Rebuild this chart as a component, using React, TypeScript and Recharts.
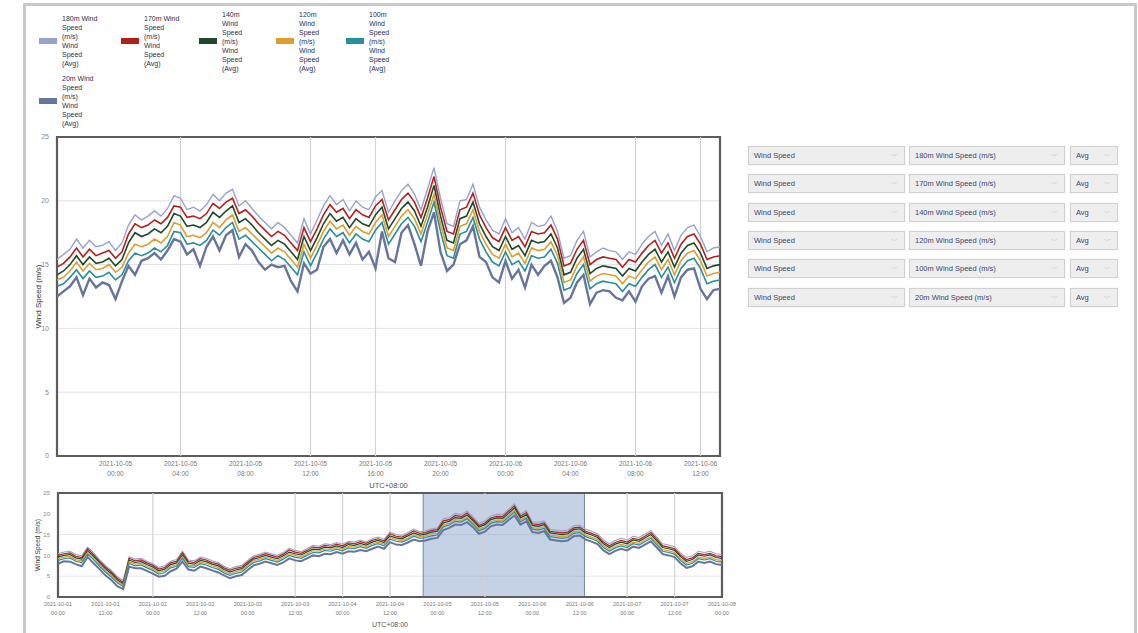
import React from 'react';
import { LineChart, Line, XAxis, YAxis, CartesianGrid, ReferenceLine, ReferenceArea } from 'recharts';

// ---------- series meta ----------
const seriesKeys = ['s180', 's170', 's140', 's120', 's100', 's20'];
const seriesNames = [
  '180m Wind Speed (m/s)',
  '170m Wind Speed (m/s)',
  '140m Wind Speed (m/s)',
  '120m Wind Speed (m/s)',
  '100m Wind Speed (m/s)',
  '20m Wind Speed (m/s)',
];
const seriesColors = ['#97a3cf', '#b3201c', '#1d4a2b', '#e19c2f', '#25909b', '#67759c'];
const legendLines = [
  ['180m Wind', 'Speed', '(m/s)', 'Wind', 'Speed', '(Avg)'],
  ['170m Wind', 'Speed', '(m/s)', 'Wind', 'Speed', '(Avg)'],
  ['140m', 'Wind', 'Speed', '(m/s)', 'Wind', 'Speed', '(Avg)'],
  ['120m', 'Wind', 'Speed', '(m/s)', 'Wind', 'Speed', '(Avg)'],
  ['100m', 'Wind', 'Speed', '(m/s)', 'Wind', 'Speed', '(Avg)'],
  ['20m Wind', 'Speed', '(m/s)', 'Wind', 'Speed', '(Avg)'],
];
const selectorMetric = 'Wind Speed';
const selectorAgg = 'Avg';

// ---------- main (zoomed) window, hours since 2021-10-01 00:00 ----------
const mainStartHour = 92.4;
const mainEndHour = 133.2;
const mainStepHours = 0.4;

const main180 = [15.4,15.8,16.2,17.0,16.3,16.9,16.4,16.5,16.8,16.1,16.7,18.1,18.9,18.5,18.8,19.2,18.8,19.4,20.4,20.2,19.3,19.5,19.2,19.7,20.5,20.0,20.6,20.9,19.6,20.0,19.4,18.8,18.3,17.8,18.3,17.9,17.3,16.7,18.6,17.4,18.5,19.6,20.4,19.7,20.1,19.2,20.0,19.5,19.3,20.3,20.8,19.1,20.0,20.8,21.3,20.5,19.3,20.9,22.6,20.2,18.2,18.0,20.0,20.1,21.3,19.5,18.5,17.7,17.4,18.6,17.5,17.9,17.0,18.3,18.0,18.1,18.8,17.6,15.5,15.7,16.9,17.6,15.6,16.0,16.3,16.1,16.0,15.4,16.0,15.8,16.6,17.2,17.6,16.5,17.4,16.1,17.3,17.9,18.1,17.2,16.0,16.3,16.4];
const main170 = [14.8,15.1,15.6,16.3,15.6,16.2,15.7,15.9,16.1,15.5,16.0,17.4,18.2,17.9,18.1,18.5,18.2,18.7,19.6,19.5,18.7,18.8,18.6,19.0,19.8,19.4,19.9,20.2,19.0,19.3,18.8,18.2,17.7,17.2,17.6,17.3,16.7,16.1,17.9,16.8,17.8,18.9,19.7,19.1,19.4,18.6,19.3,18.9,18.7,19.6,20.1,18.5,19.3,20.1,20.6,19.9,18.7,20.2,21.9,19.5,17.6,17.4,19.3,19.5,20.6,18.9,17.9,17.1,16.8,17.9,16.9,17.2,16.4,17.6,17.4,17.5,18.1,17.0,14.9,15.1,16.2,16.9,15.0,15.4,15.6,15.5,15.4,14.8,15.4,15.2,15.9,16.5,16.9,15.9,16.7,15.5,16.6,17.2,17.4,16.6,15.4,15.6,15.7];
const main140 = [14.2,14.5,15.0,15.7,15.0,15.6,15.1,15.2,15.5,14.9,15.4,16.7,17.5,17.2,17.4,17.8,17.5,18.0,19.0,18.8,18.0,18.1,17.9,18.3,19.1,18.7,19.2,19.6,18.3,18.6,18.1,17.5,17.0,16.5,16.9,16.6,16.0,15.4,17.2,16.1,17.1,18.2,19.0,18.4,18.7,17.9,18.6,18.2,18.0,18.9,19.5,17.8,18.6,19.4,19.9,19.2,18.0,19.5,21.2,18.8,16.9,16.7,18.6,18.8,19.9,18.2,17.2,16.4,16.1,17.2,16.2,16.5,15.7,16.9,16.7,16.8,17.4,16.3,14.2,14.4,15.5,16.2,14.3,14.7,14.9,14.8,14.7,14.1,14.7,14.5,15.2,15.8,16.2,15.2,16.0,14.8,15.9,16.5,16.7,15.9,14.7,14.9,15.0];
const main120 = [13.8,14.0,14.5,15.2,14.5,15.1,14.6,14.7,15.0,14.4,14.8,15.9,16.6,16.4,16.6,17.0,16.7,17.2,18.3,18.1,17.2,17.3,17.1,17.5,18.3,17.9,18.5,18.9,17.6,17.9,17.4,16.9,16.4,15.9,16.3,16.0,15.4,14.8,16.6,15.5,16.5,17.6,18.4,17.8,18.1,17.3,18.0,17.6,17.4,18.3,18.9,17.2,18.0,18.8,19.3,18.6,17.4,18.9,20.5,18.2,16.3,16.1,18.0,18.2,19.3,17.6,16.6,15.8,15.5,16.6,15.6,15.9,15.1,16.3,16.1,16.2,16.8,15.7,13.6,13.8,14.9,15.6,13.7,14.1,14.3,14.2,14.1,13.5,14.1,13.9,14.6,15.2,15.6,14.6,15.4,14.2,15.3,15.9,16.1,15.3,14.1,14.3,14.4];
const main100 = [13.3,13.5,14.0,14.6,13.9,14.5,14.0,14.1,14.4,13.8,14.2,15.3,15.9,15.7,15.9,16.3,16.0,16.5,17.6,17.5,16.6,16.7,16.5,16.9,17.7,17.3,17.9,18.3,17.0,17.3,16.8,16.3,15.8,15.3,15.7,15.4,14.8,14.2,16.0,14.9,15.9,17.0,17.8,17.2,17.5,16.7,17.4,17.0,16.8,17.7,18.3,16.6,17.4,18.2,18.7,18.0,16.8,18.3,19.9,17.6,15.7,15.5,17.4,17.6,18.7,17.0,16.0,15.2,14.9,16.0,15.0,15.3,14.5,15.7,15.5,15.6,16.2,15.1,13.0,13.2,14.3,15.0,13.1,13.5,13.7,13.6,13.5,12.9,13.5,13.3,14.0,14.6,15.0,14.0,14.8,13.6,14.7,15.3,15.5,14.7,13.5,13.7,13.8];
const main20 = [12.5,12.9,13.3,14.0,12.6,13.9,13.2,13.6,13.4,12.3,13.7,14.9,14.2,15.3,15.5,15.9,15.4,16.1,17.0,16.8,15.8,16.2,14.9,16.4,17.2,16.1,17.3,17.7,15.6,16.6,16.1,15.2,14.6,15.0,14.8,14.9,13.7,12.9,15.1,14.3,14.6,16.4,17.0,15.9,16.9,15.8,16.7,15.4,16.0,14.7,17.6,15.5,15.2,17.5,18.1,16.6,14.9,17.6,19.1,16.0,14.5,15.0,16.6,16.9,18.0,15.6,15.2,14.0,13.6,15.3,13.9,14.6,13.2,15.0,14.2,14.9,15.3,14.0,12.0,12.4,13.6,14.2,11.9,12.8,13.0,12.9,12.4,12.2,12.9,12.1,13.3,13.9,14.1,12.8,14.1,12.5,14.0,14.6,14.7,13.1,12.3,13.0,13.1];

// ---------- overview (whole week) ----------
const fullStepHours = 1.5;
const full180 = [10.4,10.8,11.0,10.2,9.9,12.0,10.6,9.0,7.6,6.4,4.9,3.9,9.7,9.1,9.3,8.6,8.0,7.1,7.5,8.6,9.0,11.0,8.9,8.7,9.6,9.3,8.7,8.3,7.4,6.8,7.3,7.6,8.8,9.9,10.3,10.8,10.4,10.0,10.7,11.7,11.2,10.9,11.6,12.4,12.2,12.8,12.6,13.1,12.7,13.4,13.2,13.7,13.3,14.0,14.4,13.9,15.6,15.0,14.8,15.5,16.3,15.7,15.9,16.4,16.6,18.8,19.1,20.1,19.8,20.7,19.3,17.7,18.3,19.5,19.9,19.8,21.1,22.4,19.9,20.8,18.1,17.9,18.3,16.3,16.1,15.9,16.1,17.1,17.3,16.3,15.8,15.2,13.7,12.8,13.6,14.1,13.7,14.6,14.3,15.1,16.0,14.4,12.8,12.5,12.1,10.6,9.5,9.9,11.0,10.7,11.0,10.4,10.2];
const full170 = [10.0,10.4,10.6,9.8,9.5,11.6,10.2,8.6,7.2,6.0,4.5,3.5,9.3,8.7,8.9,8.2,7.6,6.7,7.1,8.2,8.6,10.6,8.5,8.3,9.2,8.9,8.3,7.9,7.0,6.4,6.9,7.2,8.4,9.5,9.9,10.4,10.0,9.6,10.3,11.3,10.8,10.5,11.2,12.0,11.8,12.4,12.2,12.7,12.3,13.0,12.8,13.3,12.9,13.6,14.0,13.5,15.2,14.6,14.4,15.1,15.9,15.3,15.5,16.0,16.2,18.3,18.6,19.6,19.3,20.2,18.8,17.2,17.8,19.0,19.4,19.3,20.6,21.9,19.4,20.3,17.6,17.4,17.8,15.8,15.6,15.4,15.6,16.6,16.8,15.8,15.3,14.7,13.2,12.3,13.1,13.6,13.2,14.1,13.8,14.6,15.5,13.9,12.3,12.0,11.6,10.1,9.0,9.4,10.5,10.2,10.5,9.9,9.7];
const full140 = [9.6,10.0,10.2,9.4,9.1,11.1,9.8,8.2,6.8,5.6,4.1,3.2,8.9,8.3,8.5,7.8,7.2,6.3,6.7,7.8,8.2,10.1,8.1,7.9,8.8,8.5,7.9,7.5,6.6,6.0,6.5,6.8,8.0,9.1,9.5,10.0,9.6,9.2,9.9,10.8,10.4,10.1,10.8,11.5,11.4,12.0,11.8,12.3,11.9,12.6,12.4,12.9,12.5,13.2,13.6,13.1,14.7,14.2,14.0,14.7,15.4,14.9,15.1,15.6,15.8,17.8,18.2,19.1,18.9,19.7,18.4,16.8,17.4,18.6,19.0,18.9,20.1,21.4,19.0,19.8,17.2,17.0,17.4,15.4,15.2,15.0,15.2,16.2,16.4,15.4,14.9,14.3,12.8,11.9,12.7,13.2,12.8,13.7,13.4,14.2,15.0,13.5,11.9,11.6,11.2,9.7,8.6,9.0,10.1,9.8,10.1,9.5,9.3];
const full120 = [9.2,9.6,9.8,9.0,8.7,10.7,9.4,7.8,6.4,5.2,3.8,2.9,8.5,7.9,8.1,7.4,6.8,5.9,6.3,7.4,7.8,9.7,7.7,7.5,8.4,8.1,7.5,7.1,6.2,5.6,6.1,6.4,7.6,8.7,9.1,9.6,9.2,8.8,9.5,10.4,10.0,9.7,10.4,11.1,11.0,11.6,11.4,11.9,11.5,12.2,12.0,12.5,12.1,12.8,13.2,12.7,14.3,13.8,13.6,14.2,15.0,14.5,14.7,15.2,15.3,17.3,17.7,18.6,18.4,19.2,17.9,16.3,16.9,18.1,18.5,18.4,19.6,20.8,18.5,19.3,16.7,16.5,16.9,14.9,14.7,14.5,14.7,15.7,15.9,14.9,14.4,13.8,12.3,11.4,12.2,12.7,12.3,13.2,12.9,13.7,14.5,13.0,11.4,11.1,10.7,9.2,8.1,8.5,9.6,9.3,9.6,9.0,8.8];
const full100 = [8.8,9.2,9.4,8.6,8.3,10.3,9.0,7.4,6.0,4.8,3.4,2.5,8.1,7.5,7.7,7.0,6.4,5.5,5.9,7.0,7.4,9.3,7.3,7.1,8.0,7.7,7.1,6.7,5.8,5.2,5.7,6.0,7.2,8.3,8.7,9.2,8.8,8.4,9.1,10.0,9.6,9.3,10.0,10.7,10.6,11.2,11.0,11.5,11.1,11.8,11.6,12.1,11.7,12.4,12.8,12.3,13.9,13.4,13.2,13.8,14.6,14.1,14.3,14.7,14.9,16.9,17.3,18.2,18.0,18.8,17.5,15.9,16.5,17.7,18.1,18.0,19.2,20.4,18.1,18.9,16.3,16.1,16.5,14.5,14.3,14.1,14.3,15.3,15.5,14.5,14.0,13.4,11.9,11.0,11.8,12.3,11.9,12.8,12.5,13.3,14.1,12.6,11.0,10.7,10.3,8.8,7.7,8.1,9.2,8.9,9.2,8.6,8.4];
const full20 = [8.0,8.6,8.5,7.9,7.4,9.6,8.1,6.7,5.2,4.1,2.6,1.9,7.3,6.9,6.9,6.3,5.6,4.9,5.1,6.2,6.8,8.5,6.6,6.3,7.3,6.9,6.4,5.9,5.2,4.5,5.0,5.3,6.5,7.6,8.0,8.5,8.1,7.7,8.3,9.3,8.8,8.6,9.3,10.0,9.8,10.4,10.3,10.8,10.4,11.0,10.9,11.3,11.0,11.6,12.1,11.6,13.2,12.6,12.5,13.1,13.8,13.4,13.6,14.0,14.2,16.1,16.6,17.4,17.3,18.0,16.8,15.2,15.7,17.0,17.4,17.3,18.5,19.6,17.4,18.2,15.6,15.4,15.8,13.8,13.6,13.4,13.6,14.6,14.8,13.8,13.3,12.7,11.2,10.3,11.1,11.6,11.2,12.1,11.8,12.6,13.4,11.9,10.3,10.0,9.6,8.1,7.0,7.4,8.5,8.2,8.5,7.9,7.7];

// ---------- ticks ----------
const yTicks = [0, 5, 10, 15, 20, 25];
const mainTickHours = [96, 100, 104, 108, 112, 116, 120, 124, 128, 132];
const mainTickDates = ['2021-10-05', '2021-10-05', '2021-10-05', '2021-10-05', '2021-10-05', '2021-10-05', '2021-10-06', '2021-10-06', '2021-10-06', '2021-10-06'];
const mainTickTimes = ['00:00', '04:00', '08:00', '12:00', '16:00', '20:00', '00:00', '04:00', '08:00', '12:00'];
const mainGridHours = [100, 108, 112, 120, 128, 132];
const fullTickHours = [0, 12, 24, 36, 48, 60, 72, 84, 96, 108, 120, 132, 144, 156, 168];
const fullTickDates = ['2021-10-01', '2021-10-01', '2021-10-02', '2021-10-02', '2021-10-03', '2021-10-03', '2021-10-04', '2021-10-04', '2021-10-05', '2021-10-05', '2021-10-06', '2021-10-06', '2021-10-07', '2021-10-07', '2021-10-08'];
const fullTickTimes = ['00:00', '12:00', '00:00', '12:00', '00:00', '12:00', '00:00', '12:00', '00:00', '12:00', '00:00', '12:00', '00:00', '12:00', '00:00'];
const fullGridHours = [24, 60, 72, 84, 108, 144, 156];
const xAxisTitle = 'UTC+08:00';
const yAxisTitle = 'Wind Speed (m/s)';

// ---------- build rows ----------
const mainSeries = [main180, main170, main140, main120, main100, main20];
const fullSeries = [full180, full170, full140, full120, full100, full20];

const buildRows = (series: number[][], start: number, step: number) =>
  series[0].map((_, i) => {
    const row: Record<string, number> = { t: Math.round((start + i * step) * 100) / 100 };
    seriesKeys.forEach((k, j) => {
      row[k] = series[j][i];
    });
    return row;
  });

const mainData = buildRows(mainSeries, mainStartHour, mainStepHours);
const fullData = buildRows(fullSeries, 0, fullStepHours);

const FONT = '"Liberation Sans", Arial, sans-serif';

const makeTick = (hours: number[], dates: string[], times: string[], size: number, d1: number, d2: number) => (props: any) => {
  const { x, y, payload } = props;
  const idx = hours.findIndex((h) => Math.abs(h - payload.value) < 1e-6);
  if (idx < 0) return null;
  return (
    <g>
      <text x={x} y={y + d1} textAnchor="middle" fontSize={size} fill="#777" fontFamily={FONT}>
        {dates[idx]}
      </text>
      <text x={x} y={y + d2} textAnchor="middle" fontSize={size} fill="#777" fontFamily={FONT}>
        {times[idx]}
      </text>
    </g>
  );
};

const yTitle = (dx: number, size: number) => (props: any) => {
  const vb = props.viewBox || {};
  const cx = vb.x + dx;
  const cy = vb.y + vb.height / 2;
  return (
    <text x={cx} y={cy} transform={`rotate(-90 ${cx} ${cy})`} textAnchor="middle" dominantBaseline="central" fontSize={size} fill="#333" fontFamily={FONT}>
      {yAxisTitle}
    </text>
  );
};

const renderLines = (widths: number[]) =>
  seriesKeys.map((k, j) => (
    <Line
      key={k}
      type="linear"
      dataKey={k}
      name={seriesNames[j]}
      stroke={seriesColors[j]}
      strokeWidth={widths[j]}
      dot={false}
      activeDot={false}
      isAnimationActive={false}
    />
  ));

const legendPos = [
  { left: 39, cy: 41 },
  { left: 121, cy: 41 },
  { left: 199, cy: 41 },
  { left: 276, cy: 41 },
  { left: 346, cy: 41 },
  { left: 39, cy: 101 },
];

export default function App() {
  return (
    <div style={{ position: 'absolute', left: 0, top: 0, width: 1138, height: 633, overflow: 'hidden', background: '#fff', fontFamily: FONT }}>
      {/* page frame */}
      <div style={{ position: 'absolute', left: 23, top: 3, width: 1108, height: 700, border: '3px solid #c9c9c9', borderBottom: 'none' }} />

      {/* legend */}
      {seriesKeys.map((k, j) => {
        const lines = legendLines[j];
        const lh = 9;
        return (
          <div key={k} style={{ position: 'absolute', left: legendPos[j].left, top: legendPos[j].cy - (lines.length * lh) / 2, display: 'flex', alignItems: 'center' }}>
            <div style={{ width: 18, height: 6, background: seriesColors[j], marginRight: 5 }} />
            <div style={{ fontSize: 7, lineHeight: `${lh}px`, color: '#2a3050', whiteSpace: 'nowrap' }}>
              {lines.map((ln, i) => (
                <div key={i}>{ln}</div>
              ))}
            </div>
          </div>
        );
      })}

      {/* selectors */}
      {seriesNames.map((nm, j) => {
        const top = 146 + j * 28.3;
        const box = (left: number, width: number, text: string) => (
          <div
            style={{
              position: 'absolute',
              left,
              top,
              width,
              height: 19,
              boxSizing: 'border-box',
              background: '#eeeeee',
              border: '1px solid #d0d0d0',
              boxShadow: '0 0 1px #ddd',
              fontSize: 7.5,
              color: '#3a4570',
              lineHeight: '17px',
              paddingLeft: 5,
            }}
          >
            {text}
            <span style={{ position: 'absolute', right: 6, top: 0, color: '#aaa', fontSize: 7 }}>﹀</span>
          </div>
        );
        return (
          <React.Fragment key={nm}>
            {box(748, 157, selectorMetric)}
            {box(909, 156, nm)}
            {box(1070, 48, selectorAgg)}
          </React.Fragment>
        );
      })}

      {/* main chart */}
      <div style={{ position: 'absolute', left: 0, top: 130 }}>
        <LineChart width={730} height={365} data={mainData} margin={{ top: 7, right: 10, bottom: 0, left: 0 }}>
          <CartesianGrid vertical={false} stroke="#e2e2e2" />
          {mainGridHours.map((h) => (
            <ReferenceLine key={h} x={h} stroke="#d2d2d2" strokeWidth={1.2} />
          ))}
          <XAxis
            type="number"
            dataKey="t"
            domain={[mainStartHour, mainEndHour]}
            ticks={mainTickHours}
            interval={0}
            allowDataOverflow
            tickLine={false}
            axisLine={false}
            height={39}
            tick={makeTick(mainTickHours, mainTickDates, mainTickTimes, 6.5, 2, 12)}
            label={{ value: xAxisTitle, position: 'insideBottom', offset: 7, fontSize: 7.5, fill: '#555', fontFamily: FONT }}
          />
          <YAxis
            type="number"
            domain={[0, 25]}
            ticks={yTicks}
            width={57}
            tickLine={false}
            axisLine={false}
            tick={{ fontSize: 7, fill: '#888', fontFamily: FONT }}
            label={yTitle(38, 8)}
          />
          {renderLines([1.4, 1.6, 1.6, 1.6, 1.6, 2.4])}
          <ReferenceArea x1={mainStartHour} x2={mainEndHour} y1={0} y2={25} fill="none" stroke="#5c5c5c" strokeWidth={2.2} ifOverflow="visible" />
        </LineChart>
      </div>

      {/* overview chart */}
      <div style={{ position: 'absolute', left: 0, top: 485 }}>
        <LineChart width={745} height={148} data={fullData} margin={{ top: 8, right: 23, bottom: 0, left: 0 }}>
          <CartesianGrid vertical={false} stroke="#e6e6e6" />
          {fullGridHours.map((h) => (
            <ReferenceLine key={h} x={h} stroke="#d2d2d2" strokeWidth={1.2} />
          ))}
          <XAxis
            type="number"
            dataKey="t"
            domain={[0, 168]}
            ticks={fullTickHours}
            interval={0}
            tickLine={false}
            axisLine={false}
            height={36}
            tick={makeTick(fullTickHours, fullTickDates, fullTickTimes, 5.5, 1, 10)}
            label={{ value: xAxisTitle, position: 'insideBottom', offset: 6, fontSize: 7, fill: '#555', fontFamily: FONT }}
          />
          <YAxis
            type="number"
            domain={[0, 25]}
            ticks={yTicks}
            width={58}
            tickLine={false}
            axisLine={false}
            tick={{ fontSize: 6, fill: '#888', fontFamily: FONT }}
            label={yTitle(37, 6.5)}
          />
          {renderLines([1.1, 1.2, 1.2, 1.2, 1.2, 2.0])}
          <ReferenceArea x1={mainStartHour} x2={mainEndHour} y1={0} y2={25} fill="#7f9cc8" fillOpacity={0.45} stroke="#6f87b0" strokeWidth={1} ifOverflow="visible" />
          <ReferenceArea x1={0} x2={168} y1={0} y2={25} fill="none" stroke="#5c5c5c" strokeWidth={2.2} ifOverflow="visible" />
        </LineChart>
      </div>
    </div>
  );
}
